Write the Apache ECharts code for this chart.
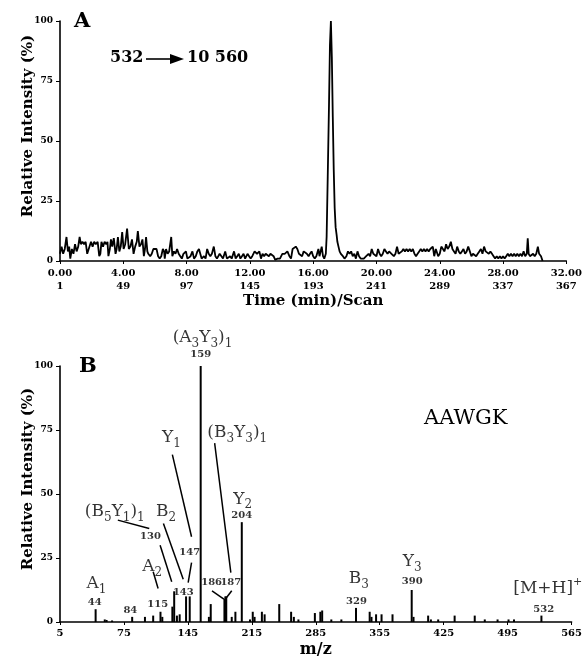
<!DOCTYPE html>
<html>
<head>
<meta charset="utf-8">
<script src="https://cdn.jsdelivr.net/npm/echarts@6/dist/echarts.min.js"></script>
<style>
  html, body { margin: 0; padding: 0; background: #fff; }
  #chart { width: 585px; height: 659px; }
</style>
</head>
<body>
<div id="chart"></div>
<script>
// ---- panel A: selected reaction trace 532 -> 10 560 (time in min, relative intensity %)
const timeTicks = [0, 4, 8, 12, 16, 20, 24, 28, 32];
const scanTicks = [1, 49, 97, 145, 193, 241, 289, 337, 367];
const traceA = [
  [0.00, 3], [0.10, 6], [0.20, 3], [0.30, 5], [0.41, 10], [0.50, 4], [0.58, 6], [0.65, 1], [0.75, 5], [0.85, 3],
  [0.95, 7], [1.05, 4], [1.15, 6], [1.24, 10], [1.32, 7], [1.42, 8], [1.52, 7], [1.62, 8], [1.72, 3], [1.82, 3],
  [1.96, 8], [2.06, 6], [2.16, 8], [2.26, 7], [2.38, 8], [2.48, 2], [2.55, 3], [2.62, 8], [2.72, 6], [2.82, 8],
  [2.92, 7], [3.00, 8], [3.06, 2], [3.15, 5], [3.22, 9], [3.30, 6], [3.40, 9.5], [3.51, 3], [3.58, 5], [3.66, 10],
  [3.75, 4], [3.84, 6], [3.93, 12], [4.02, 5], [4.12, 7], [4.24, 13.5], [4.35, 5], [4.45, 6], [4.55, 9], [4.65, 3],
  [4.75, 6], [4.85, 8], [4.92, 12.5], [5.02, 6], [5.12, 7], [5.21, 9], [5.30, 2], [5.37, 5], [5.44, 10], [5.52, 4],
  [5.58, 3], [5.70, 2], [5.80, 3], [5.90, 5], [6.00, 5], [6.10, 5], [6.20, 2], [6.30, 1], [6.40, 2], [6.50, 5],
  [6.58, 4], [6.62, 1], [6.70, 5], [6.80, 3], [6.90, 4], [7.03, 10], [7.10, 2], [7.20, 4], [7.30, 3], [7.40, 5],
  [7.50, 3], [7.60, 2], [7.70, 1], [7.80, 3], [7.96, 4], [8.05, 1], [8.15, 1], [8.25, 2], [8.37, 4], [8.47, 1],
  [8.58, 2], [8.68, 4], [8.78, 5], [8.88, 5], [8.95, 1], [9.10, 2], [9.20, 1], [9.30, 5], [9.40, 3], [9.50, 2],
  [9.60, 3], [9.72, 6], [9.82, 2], [9.92, 1], [10.09, 3], [10.20, 2], [10.30, 1], [10.44, 4], [10.55, 1], [10.65, 1],
  [10.75, 2], [10.85, 1], [11.00, 4], [11.10, 1], [11.20, 2], [11.30, 3], [11.40, 1], [11.50, 2], [11.60, 3], [11.70, 1],
  [11.85, 3], [11.95, 2], [12.05, 1], [12.15, 2], [12.30, 4], [12.45, 3], [12.60, 4], [12.70, 1], [12.80, 3], [12.90, 2],
  [13.00, 3], [13.10, 3], [13.20, 2], [13.30, 3], [13.40, 3], [13.50, 2], [13.60, 0.5], [13.75, 1], [13.90, 1], [14.05, 3],
  [14.20, 3], [14.37, 4], [14.50, 2], [14.60, 1], [14.70, 5], [14.80, 5], [14.90, 6], [15.00, 5], [15.10, 3], [15.20, 3],
  [15.30, 2], [15.40, 4], [15.50, 4], [15.60, 3], [15.71, 2], [15.80, 3], [15.90, 4], [16.00, 2], [16.10, 1], [16.20, 2],
  [16.33, 5], [16.40, 2], [16.54, 6], [16.62, 2], [16.70, 1], [16.80, 3], [16.85, 10], [16.92, 35], [17.00, 65], [17.06, 90],
  [17.12, 100], [17.18, 85], [17.24, 60], [17.30, 38], [17.36, 22], [17.42, 14], [17.48, 11], [17.53, 8], [17.60, 6], [17.67, 4],
  [17.75, 3], [17.88, 2], [17.98, 1], [18.10, 2], [18.20, 4], [18.30, 3], [18.40, 4], [18.50, 2], [18.60, 3], [18.70, 1],
  [18.80, 4], [18.90, 2], [19.00, 1], [19.10, 1], [19.20, 1], [19.35, 2], [19.50, 3], [19.60, 2], [19.70, 5], [19.80, 3],
  [19.90, 3], [20.00, 2], [20.10, 5], [20.20, 3], [20.30, 2], [20.40, 3], [20.50, 5], [20.60, 4], [20.70, 3], [20.80, 4],
  [20.95, 3], [21.10, 2], [21.20, 3], [21.30, 6], [21.40, 3], [21.50, 3], [21.60, 4], [21.70, 5], [21.80, 4], [21.90, 5],
  [22.00, 4], [22.10, 5], [22.20, 4], [22.30, 5], [22.40, 3], [22.50, 2], [22.60, 3], [22.70, 4], [22.80, 5], [22.90, 4],
  [23.00, 5], [23.10, 4], [23.20, 5], [23.30, 4], [23.40, 5], [23.56, 6], [23.65, 2], [23.75, 5], [23.85, 3], [23.90, 2],
  [24.00, 3], [24.10, 6], [24.20, 5], [24.30, 4], [24.40, 7], [24.50, 5], [24.60, 6], [24.70, 8], [24.80, 5], [24.90, 4],
  [25.00, 3], [25.10, 6], [25.20, 4], [25.30, 3], [25.40, 4], [25.50, 5], [25.60, 3], [25.70, 4], [25.80, 6], [25.90, 4],
  [26.00, 2], [26.10, 3], [26.20, 3], [26.30, 2], [26.40, 3], [26.50, 4], [26.60, 5], [26.70, 3], [26.80, 6], [26.90, 4],
  [27.00, 4], [27.10, 3], [27.20, 4], [27.30, 3], [27.40, 2], [27.50, 1], [27.60, 2], [27.70, 1], [27.80, 2], [27.90, 1],
  [28.00, 2], [28.10, 1], [28.20, 2], [28.30, 3], [28.40, 2], [28.50, 3], [28.60, 2], [28.70, 3], [28.80, 2], [28.90, 3],
  [29.00, 2], [29.10, 3], [29.20, 2], [29.30, 4], [29.40, 2], [29.50, 3], [29.56, 9.5], [29.62, 3], [29.70, 2], [29.80, 2],
  [29.90, 3], [30.00, 2], [30.10, 3], [30.20, 6], [30.28, 3], [30.40, 2], [30.50, 0]
];

// ---- panel B: product ion spectrum of AAWGK (m/z, relative intensity %)
const peaksB = [
  [44, 5], [54, 1], [56, 0.8], [62, 0.6], [84, 2], [98, 2], [107, 2.5], [115, 4], [117, 2], [128, 6],
  [130, 12], [133, 2.5], [136, 3], [143, 10], [147, 10], [159, 100], [168, 2], [170, 7], [185, 9], [186, 10],
  [187, 10], [193, 2], [197, 4], [204, 39], [213, 1], [216, 4], [218, 2], [226, 4], [229, 3], [245, 7],
  [258, 4], [261, 2], [266, 1], [284, 3.5], [290, 4], [292, 4.5], [302, 1], [313, 1], [329, 5.5], [344, 4],
  [346, 2], [351, 3], [357, 3], [369, 3], [390, 12.5], [392, 2], [408, 2.5], [411, 1], [419, 1], [437, 2.5],
  [459, 2.5], [470, 1], [484, 1], [496, 1], [502, 1], [532, 2.5]
];

// annotation text anchored in data units [m/z, intensity]
const ionLabels = [
  ['(A{s|3}Y{s|3}){s|1}', 161, 111],
  ['{b|159}', 159, 104.5],
  ['Y{s|1}', 127, 72],
  ['(B{s|3}Y{s|3}){s|1}', 199, 74],
  ['Y{s|2}', 205, 48],
  ['{b|204}', 204, 41.5],
  ['(B{s|5}Y{s|1}){s|1}', 65, 43],
  ['{b|130}', 104, 33.5],
  ['B{s|2}', 121, 43],
  ['{b|147}', 147, 27.2],
  ['A{s|2}', 106, 21.5],
  ['{b|143}', 140, 11.7],
  ['{b|186}', 171, 15.6],
  ['{b|187}', 192, 15.6],
  ['A{s|1}', 45, 15],
  ['{b|44}', 43, 7.8],
  ['{b|84}', 82, 4.7],
  ['{b|115}', 112, 7],
  ['B{s|3}', 332, 17],
  ['{b|329}', 329.5, 8.2],
  ['Y{s|3}', 390.5, 23.5],
  ['{b|390}', 390.5, 16],
  ['[M+H]{p|+}', 539, 13],
  ['{b|532}', 534.5, 5.1]
];

// leader lines [m/z1, int1, m/z2, int2]
const leaderLines = [
  [68.3, 39.8, 102.7, 36.5],
  [118.2, 38.5, 139.9, 16.7],
  [128, 65.4, 149, 33.3],
  [149, 23.2, 145.3, 15.4],
  [114.6, 30, 127.3, 15.7],
  [107, 19.6, 112.4, 13.1],
  [174.3, 69.9, 192, 19.3],
  [171.4, 12.2, 184.4, 8.9],
  [193, 12.2, 185.9, 8.9]
];

const SERIF = "'DejaVu Serif', 'Liberation Serif', serif";

let myChart = echarts.init(document.getElementById("chart"));

const tickFont = { fontFamily: SERIF, fontWeight: "bold", fontSize: 10, color: "#000" };
const axisLineStyle = { lineStyle: { color: "#000", width: 1.6 } };

let option = {
  backgroundColor: "#fff",
  animation: false,
  grid: [
    { left: 60, right: 9, top: 21, height: 240 },
    { left: 60, right: 9, top: 366, height: 257 },
  ],
  xAxis: [
    {
      gridIndex: 0,
      type: "value",
      min: 0,
      max: 32,
      interval: 4,
      splitLine: { show: false },
      axisLine: axisLineStyle,
      axisTick: { length: 3, lineStyle: { color: "#000" } },
      axisLabel: {
        ...tickFont,
        margin: 6,
        lineHeight: 13,
        showMaxLabel: true,
        formatter: (v) => v.toFixed(2) + "\n" + scanTicks[timeTicks.indexOf(v)],
      },
      name: "Time (min)/Scan",
      nameLocation: "middle",
      nameGap: 33,
      nameMoveOverlap: false,
      nameTextStyle: { fontFamily: SERIF, fontWeight: "bold", fontSize: 15, color: "#000" },
    },
    {
      gridIndex: 1,
      type: "value",
      min: 5,
      max: 565,
      interval: 70,
      splitLine: { show: false },
      axisLine: axisLineStyle,
      axisTick: { length: 3, lineStyle: { color: "#000" } },
      axisLabel: { ...tickFont, margin: 6, showMaxLabel: true },
      name: "m/z",
      nameLocation: "middle",
      nameGap: 20,
      nameMoveOverlap: false,
      nameTextStyle: { fontFamily: SERIF, fontWeight: "bold", fontSize: 16, color: "#000" },
    },
  ],
  yAxis: [0, 1].map((i) => ({
    gridIndex: i,
    type: "value",
    min: 0,
    max: 100,
    interval: 25,
    splitLine: { show: false },
    axisLine: axisLineStyle,
    axisTick: { length: 4, lineStyle: { color: "#000" } },
    axisLabel: { ...tickFont, fontSize: 9, margin: 7 },
    name: "Relative Intensity (%)",
    nameLocation: "middle",
    nameGap: 24,
    nameMoveOverlap: false,
    nameTextStyle: {
      fontFamily: SERIF,
      fontWeight: "bold",
      fontSize: 15,
      color: "#000",
      padding: [0, 0, 0, 30],
    },
  })),
  graphic: [
    { type: "text", left: 74, top: 11, style: { text: "A", font: "bold 21px " + SERIF, fill: "#000" } },
    { type: "text", left: 79, top: 356, style: { text: "B", font: "bold 21px " + SERIF, fill: "#000" } },
    { type: "text", left: 110, top: 50, style: { text: "532", font: "bold 16px " + SERIF, fill: "#000" } },
    { type: "line", shape: { x1: 146, y1: 59, x2: 172, y2: 59 }, style: { stroke: "#000", lineWidth: 1.6 } },
    { type: "polygon", shape: { points: [[170, 54], [184, 59], [170, 64]] }, style: { fill: "#000" } },
    { type: "text", left: 187, top: 50, style: { text: "10 560", font: "bold 16px " + SERIF, fill: "#000" } },
    { type: "text", left: 424, top: 408, style: { text: "AAWGK", font: "21px " + SERIF, fill: "#000" } },
  ],
  series: [
    {
      type: "line",
      xAxisIndex: 0,
      yAxisIndex: 0,
      data: traceA,
      showSymbol: false,
      lineStyle: { color: "#000", width: 1.8 },
    },
    {
      type: "bar",
      xAxisIndex: 1,
      yAxisIndex: 1,
      data: peaksB,
      barWidth: 2,
      itemStyle: { color: "#000" },
    },
    {
      type: "scatter",
      xAxisIndex: 1,
      yAxisIndex: 1,
      symbolSize: 0,
      silent: true,
      clip: false,
      data: ionLabels.map((d) => ({ name: d[0], value: [d[1], d[2]] })),
      label: {
        show: true,
        position: "inside",
        formatter: (p) => p.name,
        fontFamily: SERIF,
        fontSize: 17,
        color: "#000",
        rich: {
          s: { fontFamily: SERIF, fontSize: 12, color: "#000", padding: [12, 0, 0, 0] },
          p: { fontFamily: SERIF, fontSize: 11, color: "#000", padding: [0, 0, 14, 0] },
          b: { fontFamily: SERIF, fontSize: 10, fontWeight: "bold", color: "#000" },
        },
      },
      markLine: {
        silent: true,
        symbol: "none",
        label: { show: false },
        lineStyle: { color: "#000", width: 1.5, type: "solid" },
        data: leaderLines.map((l) => [{ coord: [l[0], l[1]] }, { coord: [l[2], l[3]] }]),
      },
    },
  ],
};

option && myChart.setOption(option);
</script>
</body>
</html>
